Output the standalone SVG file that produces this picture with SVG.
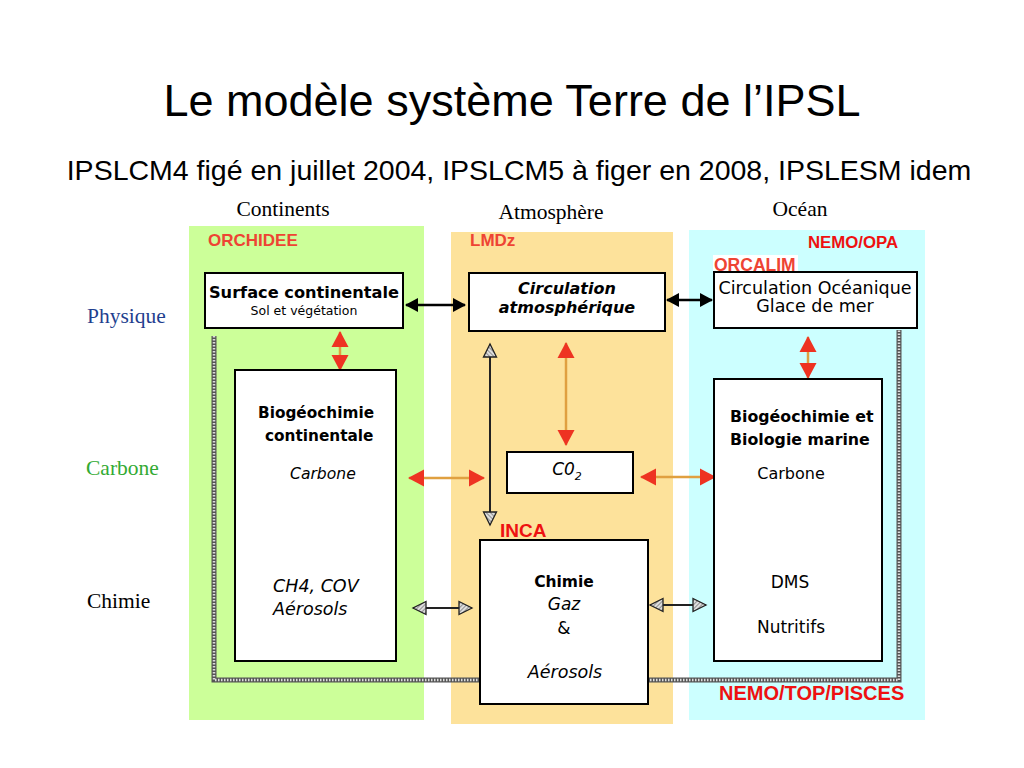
<svg xmlns="http://www.w3.org/2000/svg" width="1024" height="768" viewBox="0 0 1024 768">
<style>
.title{font-family:"Liberation Sans",Arial,sans-serif;fill:#000}
.serif{font-family:"Liberation Serif","Times New Roman",serif;font-size:21.5px}
.tag{font-family:"Liberation Sans",Arial,sans-serif;font-weight:bold;fill:#ee4433}
.tag2{font-family:"Liberation Sans",Arial,sans-serif;font-weight:bold;fill:#ee1111}
.box{fill:#fff;stroke:#000;stroke-width:2}
.t{font-family:"DejaVu Sans","Noto Sans",sans-serif;fill:#000}
.b{font-weight:bold}
.i{font-style:italic}
.red{stroke:#e0a040;stroke-width:2.5;fill:none}
.blk{stroke:#000;stroke-width:2.5;fill:none}
.gry{stroke:#222;stroke-width:2;fill:none}
</style>
<defs>
<pattern id="hatch" width="3" height="3" patternUnits="userSpaceOnUse" patternTransform="rotate(45)">
<rect width="3" height="3" fill="#ddd"/>
<line x1="0" y1="0" x2="0" y2="3" stroke="#777" stroke-width="1.5"/>
</pattern>
<marker id="rh" markerWidth="18" markerHeight="20" refX="15" refY="10" orient="auto-start-reverse" markerUnits="userSpaceOnUse">
<path d="M0,1.5 L16,10 L0,18.5 Z" fill="#ee3322"/>
</marker>
<marker id="bh" markerWidth="14" markerHeight="16" refX="12" refY="8" orient="auto-start-reverse" markerUnits="userSpaceOnUse">
<path d="M0,1 L13,8 L0,15 Z" fill="#000"/>
</marker>
<marker id="gh" markerWidth="16" markerHeight="16" refX="14" refY="8" orient="auto-start-reverse" markerUnits="userSpaceOnUse">
<path d="M1,1.5 L14,8 L1,14.5 Z" fill="url(#hatch)" stroke="#222" stroke-width="1.3"/>
</marker>
</defs>
<rect width="1024" height="768" fill="#fff"/>

<text class="title" x="512" y="116" font-size="45" text-anchor="middle">Le modèle système Terre de l’IPSL</text>
<text class="title" x="519" y="180" font-size="28.5" text-anchor="middle">IPSLCM4 figé en juillet 2004, IPSLCM5 à figer en 2008, IPSLESM idem</text>

<text class="serif" x="283" y="216" text-anchor="middle">Continents</text>
<text class="serif" x="551" y="219" text-anchor="middle">Atmosphère</text>
<text class="serif" x="800" y="216" text-anchor="middle">Océan</text>

<text class="serif" x="87" y="323" fill="#1f3f8f">Physique</text>
<text class="serif" x="86" y="475" fill="#33aa33">Carbone</text>
<text class="serif" x="87" y="608" fill="#000">Chimie</text>

<g id="panels">
<rect x="189" y="226" width="235" height="494" fill="#ccff99"/>
<rect x="451" y="232" width="222" height="492" fill="#fde29b"/>
<rect x="689" y="230" width="236" height="490" fill="#ccffff"/>
<text class="tag" x="208" y="246" font-size="17">ORCHIDEE</text>
<text class="tag" x="470" y="246" font-size="17">LMDz</text>
<text class="tag2" x="808" y="248" font-size="16.8">NEMO/OPA</text>
<rect x="713" y="255" width="85" height="18" fill="#fff"/>
<text class="tag" x="714" y="271" font-size="17.5">ORCALIM</text>
<text class="tag2" x="500" y="537" font-size="19">INCA</text>
<text class="tag2" x="719" y="700" font-size="20">NEMO/TOP/PISCES</text>
</g>

<g id="connectors">
<path d="M214,336 V680 H899 V330" fill="none" stroke="#555" stroke-width="5"/>
<path d="M214,336 V680 H899 V330" fill="none" stroke="#ddd" stroke-width="2.5" stroke-dasharray="1.5 1.5"/>
<line class="blk" x1="406" y1="305" x2="465" y2="305" marker-start="url(#bh)" marker-end="url(#bh)"/>
<line class="blk" x1="667" y1="300" x2="712" y2="300" marker-start="url(#bh)" marker-end="url(#bh)"/>
<line class="red" x1="340" y1="332" x2="340" y2="370" marker-start="url(#rh)" marker-end="url(#rh)"/>
<line class="red" x1="808" y1="337" x2="808" y2="378" marker-start="url(#rh)" marker-end="url(#rh)"/>
<line class="red" x1="409" y1="478" x2="484" y2="478" marker-start="url(#rh)" marker-end="url(#rh)"/>
<line class="red" x1="566" y1="343" x2="566" y2="445" marker-start="url(#rh)" marker-end="url(#rh)"/>
<line class="red" x1="641" y1="477" x2="715" y2="477" marker-start="url(#rh)" marker-end="url(#rh)"/>
<line class="gry" x1="490" y1="344" x2="490" y2="525" marker-start="url(#gh)" marker-end="url(#gh)"/>
<line class="gry" x1="413" y1="608" x2="472" y2="608" marker-start="url(#gh)" marker-end="url(#gh)"/>
<line class="gry" x1="650" y1="605" x2="706" y2="605" marker-start="url(#gh)" marker-end="url(#gh)"/>
</g>

<g id="surface">
<rect class="box" x="205" y="273" width="198" height="55"/>
<text class="t b" x="304" y="298" font-size="16.2" text-anchor="middle">Surface continentale</text>
<text class="t" x="304" y="315" font-size="12.5" text-anchor="middle">Sol et végétation</text>
</g>
<g id="circ-atm">
<rect class="box" x="469" y="273" width="196" height="58"/>
<text class="t b i" x="567" y="294" font-size="16" text-anchor="middle">Circulation</text>
<text class="t b i" x="567" y="313" font-size="16" text-anchor="middle">atmosphérique</text>
</g>
<g id="circ-ocean">
<rect class="box" x="714" y="272" width="203" height="56"/>
<text class="t" x="815" y="294" font-size="17.5" text-anchor="middle">Circulation Océanique</text>
<text class="t" x="815" y="312" font-size="17.5" text-anchor="middle">Glace de mer</text>
</g>
<g id="bio-cont">
<rect class="box" x="235" y="370" width="161" height="291"/>
<text class="t b" x="258" y="418" font-size="15.3">Biogéochimie</text>
<text class="t b" x="265" y="441" font-size="15.3">continentale</text>
<text class="t i" x="290" y="479" font-size="15.6">Carbone</text>
<text class="t i" x="273" y="592" font-size="17.5">CH4, COV</text>
<text class="t i" x="273" y="615" font-size="17.5">Aérosols</text>
</g>
<g id="co2">
<rect class="box" x="507" y="452" width="126" height="41"/>
<text class="t i" x="567" y="475" font-size="17" text-anchor="middle">C0<tspan font-size="11" dy="5">2</tspan></text>
</g>
<g id="chimie">
<rect class="box" x="480" y="540" width="168" height="164"/>
<text class="t b" x="564" y="587" font-size="15.5" text-anchor="middle">Chimie</text>
<text class="t i" x="564" y="610" font-size="17" text-anchor="middle">Gaz</text>
<text class="t" x="564" y="634" font-size="17" text-anchor="middle">&amp;</text>
<text class="t i" x="565" y="678" font-size="17.5" text-anchor="middle">Aérosols</text>
</g>
<g id="bio-marine">
<rect class="box" x="714" y="379" width="168" height="282"/>
<text class="t b" x="730" y="422" font-size="15.8">Biogéochimie et</text>
<text class="t b" x="730" y="445" font-size="15.8">Biologie marine</text>
<text class="t" x="791" y="479" font-size="16" text-anchor="middle">Carbone</text>
<text class="t" x="790" y="588" font-size="17" text-anchor="middle">DMS</text>
<text class="t" x="791" y="633" font-size="17" text-anchor="middle">Nutritifs</text>
</g>
</svg>
